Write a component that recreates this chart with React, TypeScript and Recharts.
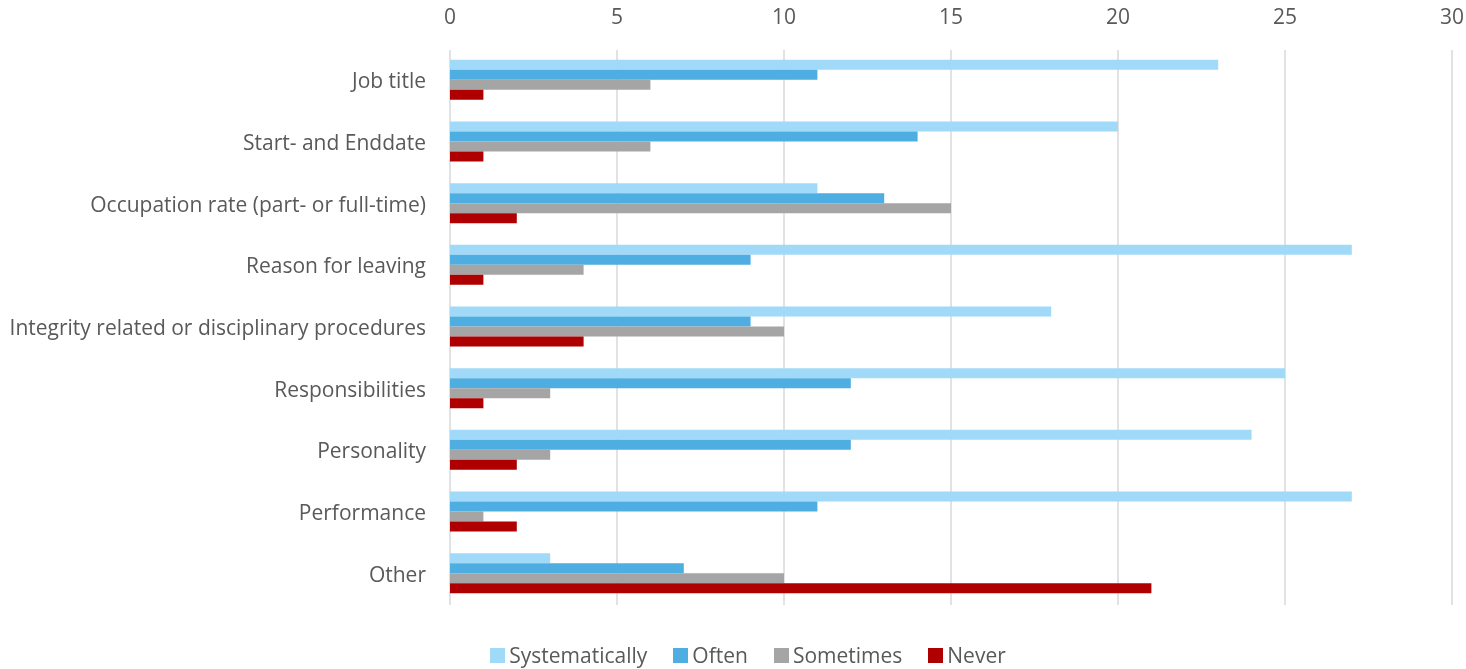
import React from 'react';
import { BarChart, Bar, XAxis, YAxis, CartesianGrid, Legend } from 'recharts';

const categories = [
  'Job title',
  'Start- and Enddate',
  'Occupation rate (part- or full-time)',
  'Reason for leaving',
  'Integrity related or disciplinary procedures',
  'Responsibilities',
  'Personality',
  'Performance',
  'Other'
];
const systematically = [23, 20, 11, 27, 18, 25, 24, 27, 3];
const often = [11, 14, 13, 9, 9, 12, 12, 11, 7];
const sometimes = [6, 6, 15, 4, 10, 3, 3, 1, 10];
const never = [1, 1, 2, 1, 4, 1, 2, 2, 21];
const xTicks = [0, 5, 10, 15, 20, 25, 30];

const series = [
  { key: 'Systematically', color: '#A0DAF8' },
  { key: 'Often', color: '#4EADE1' },
  { key: 'Sometimes', color: '#A5A5A5' },
  { key: 'Never', color: '#AE0000' }
];

const data = categories.map((name, i) => ({
  name,
  Systematically: systematically[i],
  Often: often[i],
  Sometimes: sometimes[i],
  Never: never[i]
}));

const FONT = '"Open Sans", sans-serif';
const TEXT = '#595959';

const LegendContent = () => (
  <div style={{ display: 'flex', justifyContent: 'center', gap: 26, fontFamily: FONT, fontSize: 21, color: TEXT, lineHeight: '28px', paddingLeft: 44 }}>
    {series.map(s => (
      <div key={s.key} style={{ display: 'flex', alignItems: 'center' }}>
        <span style={{ width: 15, height: 15, background: s.color, display: 'inline-block', marginRight: 4 }} />
        {s.key}
      </div>
    ))}
  </div>
);

const App = () => {
  return (
    <div style={{ position: 'fixed', left: 0, top: 0, width: 1466, height: 669 }}>
      <BarChart
        width={1466}
        height={669}
        data={data}
        layout="vertical"
        margin={{ top: 0, right: 14, left: 0, bottom: 36 }}
        barCategoryGap="16%"
        barGap={0}
        style={{ overflow: 'visible' }}
      >
        <CartesianGrid horizontal={false} stroke="#D9D9D9" strokeWidth={1.5} />
        <XAxis
          type="number"
          orientation="top"
          domain={[0, 30]}
          ticks={xTicks}
          axisLine={false}
          tickLine={false}
          tickSize={0}
          tickMargin={26}
          height={50}
          tick={{ fill: TEXT, fontSize: 21, fontFamily: FONT }}
        />
        <YAxis
          type="category"
          dataKey="name"
          width={450}
          axisLine={false}
          tickLine={false}
          tickSize={0}
          tickMargin={24}
          tick={{ fill: TEXT, fontSize: 21, fontFamily: FONT }}
        />
        <Legend verticalAlign="bottom" content={<LegendContent />} wrapperStyle={{ height: 28, bottom: 0 }} />
        {series.map(s => (
          <Bar key={s.key} dataKey={s.key} fill={s.color} isAnimationActive={false} />
        ))}
      </BarChart>
    </div>
  );
};

export default App;
